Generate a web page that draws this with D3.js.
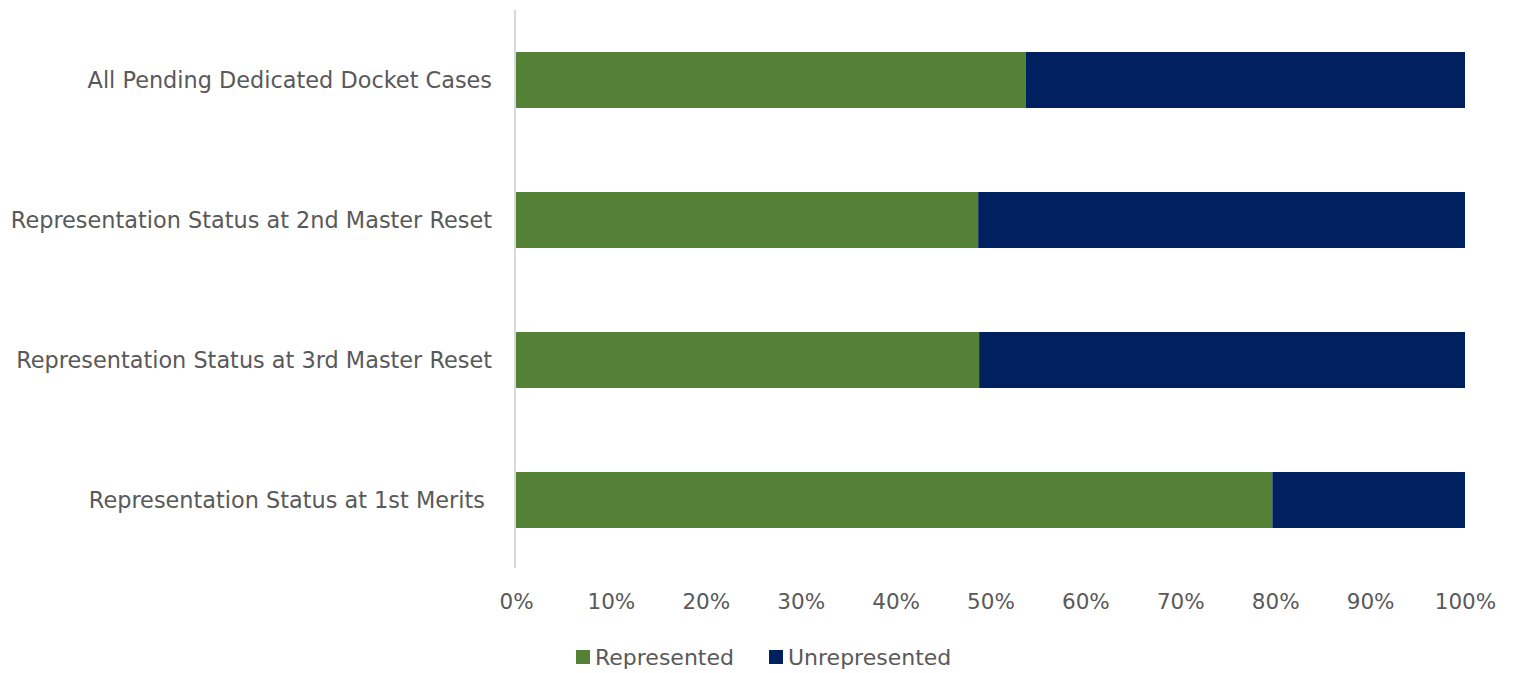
<!DOCTYPE html>
<html>
<head>
<meta charset="utf-8">
<script src="https://cdn.jsdelivr.net/npm/d3@7"></script>
<style>
  body { margin: 0; background: #fff; }
  svg text { font-family: "DejaVu Sans", sans-serif; fill: #595959; }
</style>
</head>
<body>
<svg class="chart" width="1514" height="673"></svg>
<script>
// data (share of cases, %)
let categories = [
  "All Pending Dedicated Docket Cases",
  "Representation Status at 2nd Master Reset",
  "Representation Status at 3rd Master Reset",
  "Representation Status at 1st Merits "
];
let represented = [53.7, 48.7, 48.8, 79.7];
let unrepresented = [46.3, 51.3, 51.2, 20.3];
let seriesNames = ["Represented", "Unrepresented"];
let seriesColors = ["#538135", "#002060"];
let tickValues = [0, 10, 20, 30, 40, 50, 60, 70, 80, 90, 100];

// layout
let plotLeft = 516, plotRight = 1465, plotTop = 10, plotBottom = 570;

let svg = d3.select('svg.chart');

let x = d3.scaleLinear()
          .domain([0, 100])
          .range([plotLeft, plotRight]);

let y = d3.scaleBand()
          .domain(categories)
          .range([plotTop, plotBottom])
          .paddingInner(0.6)
          .paddingOuter(0.3);

// stack the two series
let rows = categories.map((c, i) => ({cat: c, Represented: represented[i], Unrepresented: unrepresented[i]}));
let stacked = d3.stack().keys(seriesNames)(rows);

svg.selectAll('g.series')
  .data(stacked)
  .enter()
  .append('g')
  .attr('class', 'series')
  .style('fill', (d, i) => seriesColors[i])
  .selectAll('rect')
  .data(d => d)
  .enter()
  .append('rect')
  .attr('x', d => x(d[0]))
  .attr('width', d => x(d[1]) - x(d[0]))
  .attr('y', d => y(d.data.cat))
  .attr('height', y.bandwidth());

// vertical axis line
svg.append('line')
  .attr('x1', x(0) - 1).attr('x2', x(0) - 1)
  .attr('y1', plotTop).attr('y2', plotBottom - 2)
  .style('stroke', '#d9d9d9')
  .style('stroke-width', 2);

// category labels
svg.selectAll('text.cat')
  .data(categories)
  .enter()
  .append('text')
  .attr('class', 'cat')
  .attr('x', x(0) - 24)
  .attr('y', d => y(d) + y.bandwidth() / 2)
  .attr('dy', '0.35em')
  .attr('text-anchor', 'end')
  .style('font-size', '22.4px')
  .style('white-space', 'pre')
  .text(d => d);

// x axis tick labels
let xAxis = d3.axisBottom(x)
              .tickValues(tickValues)
              .tickFormat(d => d + '%')
              .tickSize(0)
              .tickPadding(0);

let gx = svg.append('g')
  .attr('transform', `translate(0, 594)`)
  .call(xAxis);
gx.select('.domain').remove();
gx.selectAll('text')
  .attr('dy', '0.71em')
  .style('font-size', '21.5px')
  .style('font-family', '"DejaVu Sans", sans-serif')
  .style('fill', '#595959');

// legend
let legendX = [576, 769];
let legend = svg.selectAll('g.legend')
  .data(seriesNames)
  .enter()
  .append('g')
  .attr('class', 'legend')
  .attr('transform', (d, i) => `translate(${legendX[i]}, 650)`);

legend.append('rect')
  .attr('width', 14)
  .attr('height', 14)
  .style('fill', (d, i) => seriesColors[i]);

legend.append('text')
  .attr('x', 19)
  .attr('y', 7)
  .attr('dy', '0.35em')
  .style('font-size', '22px')
  .text(d => d);
</script>
</body>
</html>
